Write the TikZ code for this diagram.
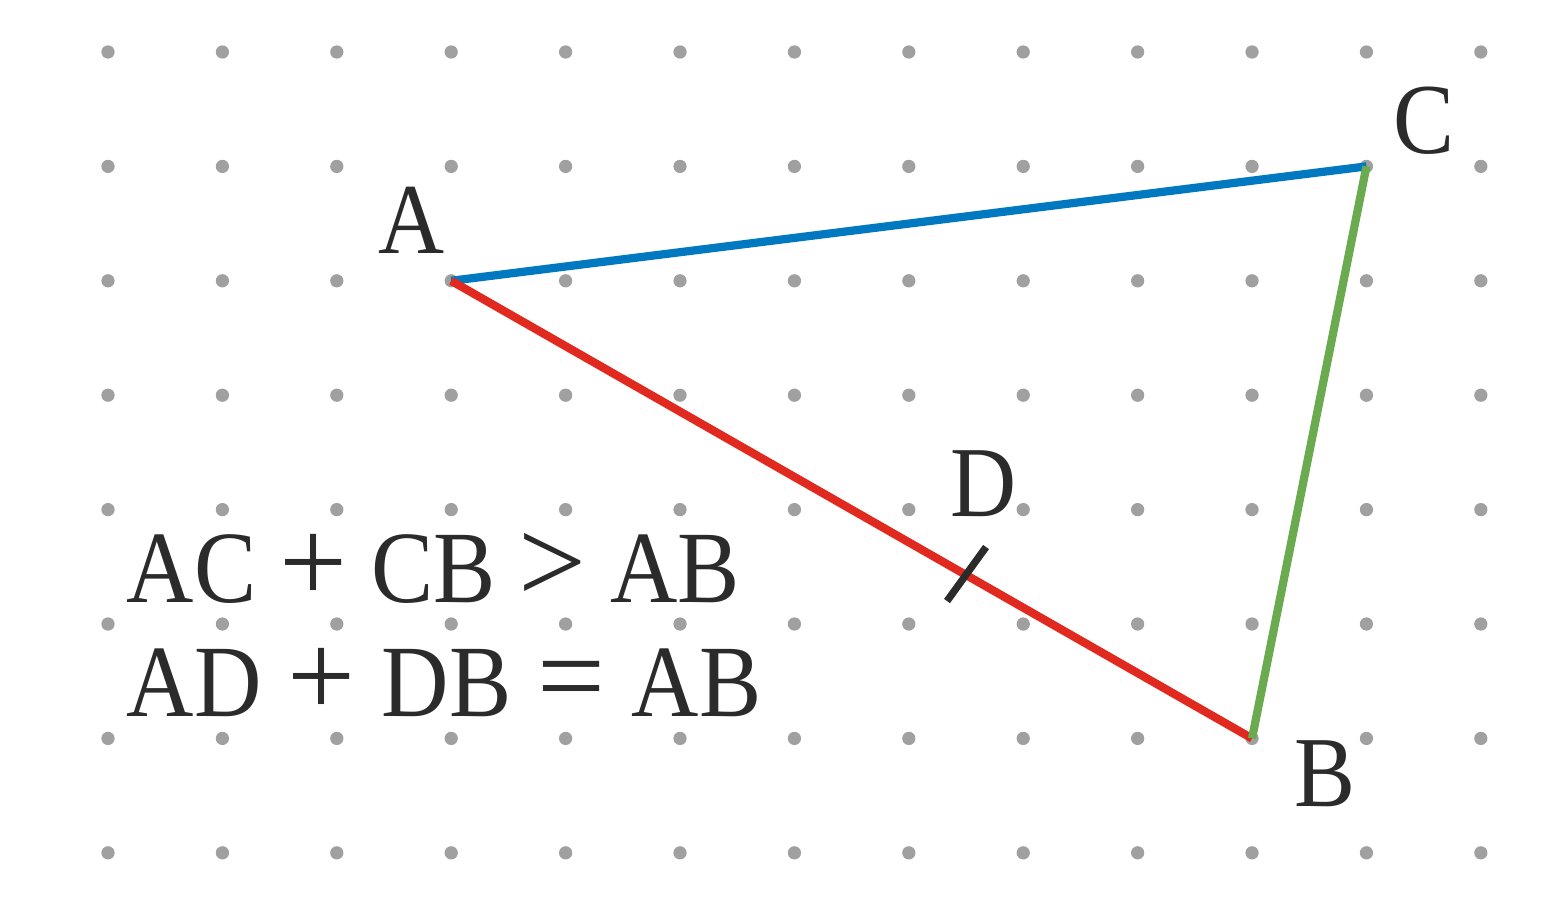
\documentclass[tikz,border=0pt]{standalone}
\usepackage{fontspec}
\setmainfont{Liberation Serif}
\newfontfamily\letterfont[FakeStretch=0.91]{Liberation Serif}
\newfontfamily\opfont{Liberation Serif}
\newcommand\eqop[2][5.8pt]{{\opfont\fontsize{30}{30}\selectfont\hspace{#1}#2\hspace{#1}}}
\usetikzlibrary{calc}
\definecolor{dotgrey}{HTML}{A0A0A0}
\definecolor{txt}{HTML}{2B2B2B}
\definecolor{sideblue}{HTML}{0079C1}
\definecolor{sidered}{HTML}{E02A1F}
\definecolor{sidegreen}{HTML}{6AAB4F}
\tikzset{
  griddot/.style={circle,fill=dotgrey,inner sep=0pt,minimum size=3.3pt},
  side/.style={line width=2.05pt},
  lbl/.style={text=txt,font=\letterfont\fontsize{25}{30}\selectfont,inner sep=0pt,anchor=base},
  eqn/.style={text=txt,font=\letterfont\fontsize{25.5}{30}\selectfont,inner sep=0pt,anchor=base west},
  tickmark/.style={draw=txt,line width=1.8pt}
}
\begin{document}
\begin{tikzpicture}
\useasboundingbox (-0.944,0.4545) rectangle (12.727,-7.622);
\foreach \i in {0,...,12}{
  \foreach \j in {0,...,7}{
    \node[griddot] (g\i-\j) at (\i,-\j) {};
  }
}
\coordinate (A) at (3,-2);
\coordinate (C) at (11,-1);
\coordinate (B) at (10,-6);
\coordinate (D) at ($(A)!0.643!(B)$);
\coordinate (t1) at (7.334,-4.799);
\coordinate (t2) at (7.675,-4.327);
\draw[side,sideblue] (A) -- (C);
\draw[side,sidered] (A) -- (B);
\draw[side,sidegreen] (C) -- (B);
\draw[tickmark] (t1) -- (t2);
\node[lbl] (lA) at (2.649,-1.757) {A};
\node[lbl] (lC) at (11.503,-0.883) {C};
\node[lbl] (lD) at (7.657,-4.056) {D};
\node[lbl] (lB) at (10.638,-6.591) {B};
\node[eqn] (e1) at (0.157,-4.808) {AC\eqop{+}CB\eqop{>}AB};
\node[eqn] (e2) at (0.157,-5.804) {AD\eqop[6.5pt]{+}DB\eqop[6.5pt]{=}AB};
\end{tikzpicture}
\end{document}
